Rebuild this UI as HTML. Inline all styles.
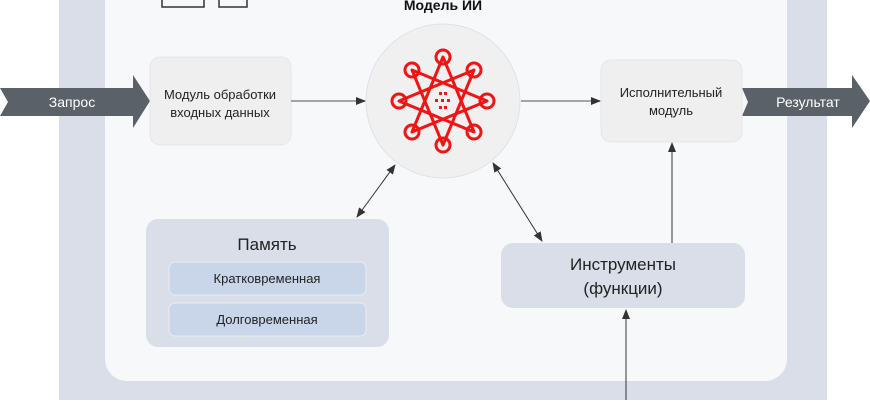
<!DOCTYPE html>
<html><head><meta charset="utf-8"><style>
body{margin:0;width:870px;height:400px;overflow:hidden;background:#fff;font-family:"Liberation Sans",sans-serif}
</style></head><body>
<svg width="870" height="400" xmlns="http://www.w3.org/2000/svg" font-family="Liberation Sans, sans-serif">
<defs>
<marker id="a" markerWidth="10" markerHeight="10" refX="9" refY="5" orient="auto-start-reverse" markerUnits="userSpaceOnUse"><path d="M0,1 L10,5 L0,9 z" fill="#333"/></marker>
</defs>
<rect x="59" y="0" width="768" height="400" fill="#d9dee9"/>
<rect x="105" y="-30" width="682" height="411" rx="22" fill="#f7f8fa"/>
<rect x="162" y="-6" width="42" height="13" fill="none" stroke="#333" stroke-width="1.5"/>
<rect x="219" y="-6" width="28" height="13" fill="none" stroke="#333" stroke-width="1.5"/>
<text x="443" y="10" text-anchor="middle" font-size="14" font-weight="bold" fill="#111">Модель ИИ</text>
<circle cx="443" cy="101" r="77" fill="#f0f0f0" stroke="#dde2ea"/>
<path d="M0,88 H133 V75 L150,101 L133,128 V116 H0 L8,102 Z" fill="#5a6168"/>
<text x="72" y="107" text-anchor="middle" font-size="14" fill="#fff">Запрос</text>
<path d="M742,88 H852 V75 L870,101 L852,128 V116 H742 L748,102 Z" fill="#5a6168"/>
<text x="808" y="107" text-anchor="middle" font-size="14" fill="#fff">Результат</text>
<rect x="150" y="57" width="141" height="88" rx="10" fill="#efefef" stroke="#e4e6ea"/>
<text x="220" y="99" text-anchor="middle" font-size="13" fill="#222">Модуль обработки</text>
<text x="220" y="117" text-anchor="middle" font-size="13" fill="#222">входных данных</text>
<rect x="601" y="60" width="141" height="82" rx="10" fill="#efefef" stroke="#e4e6ea"/>
<text x="671" y="97" text-anchor="middle" font-size="13" fill="#222">Исполнительный</text>
<text x="671" y="115" text-anchor="middle" font-size="13" fill="#222">модуль</text>
<line x1="291" y1="101" x2="365" y2="101" stroke="#888" stroke-width="1.5" marker-end="url(#a)"/>
<line x1="521" y1="101" x2="600" y2="101" stroke="#888" stroke-width="1.5" marker-end="url(#a)"/>
<rect x="146" y="219" width="243" height="128" rx="12" fill="#d9dee9"/>
<text x="267" y="250" text-anchor="middle" font-size="17" fill="#222">Память</text>
<rect x="169" y="262" width="197" height="33" rx="6" fill="#c9d6ea" stroke="#e8ecf3"/>
<text x="267" y="283" text-anchor="middle" font-size="13" fill="#222">Кратковременная</text>
<rect x="169" y="303" width="197" height="33" rx="6" fill="#c9d6ea" stroke="#e8ecf3"/>
<text x="267" y="324" text-anchor="middle" font-size="13" fill="#222">Долговременная</text>
<rect x="501" y="243" width="244" height="65" rx="12" fill="#d9dee9"/>
<text x="623" y="270" text-anchor="middle" font-size="17" fill="#222">Инструменты</text>
<text x="623" y="294" text-anchor="middle" font-size="17" fill="#222">(функции)</text>
<line x1="357" y1="217" x2="395" y2="165" stroke="#333" marker-start="url(#a)" marker-end="url(#a)"/>
<line x1="542" y1="241" x2="493" y2="163" stroke="#333" marker-start="url(#a)" marker-end="url(#a)"/>
<line x1="672" y1="243" x2="672" y2="143" stroke="#333" marker-end="url(#a)"/>
<line x1="626" y1="400" x2="626" y2="310" stroke="#333" marker-end="url(#a)"/>
<g stroke="#f01414" stroke-width="3" fill="none" stroke-linejoin="round">
<polygon points="443,57 474,132 399,101 474,70 443,145 412,70 487,101 412,132"/>
<circle cx="443" cy="57" r="7"/><circle cx="443" cy="145" r="7"/>
<circle cx="399" cy="101" r="7"/><circle cx="487" cy="101" r="7"/>
<circle cx="412" cy="70" r="7"/><circle cx="474" cy="70" r="7"/>
<circle cx="412" cy="132" r="7"/><circle cx="474" cy="132" r="7"/>
</g>
<g fill="#f01414">
<rect x="439" y="92" width="3" height="3"/><rect x="444" y="92" width="3" height="3"/>
<rect x="435" y="99" width="3" height="3"/><rect x="441" y="99" width="3" height="3"/><rect x="447" y="99" width="3" height="3"/>
<rect x="439" y="106" width="3" height="3"/><rect x="444" y="106" width="3" height="3"/>
</g>
</svg>
</body></html>
